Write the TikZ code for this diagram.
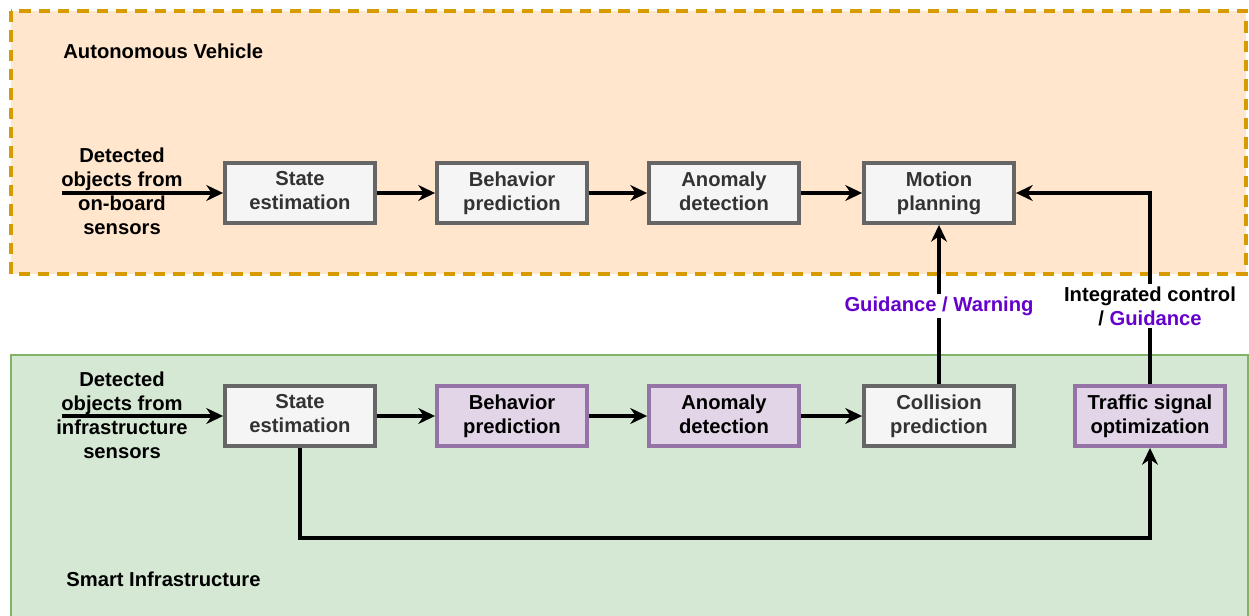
\documentclass[tikz,border=0pt]{standalone}
\usepackage{fontspec}
\setmainfont{Liberation Sans}
\usetikzlibrary{arrows.meta}

\definecolor{avfill}{HTML}{FFE6CC}
\definecolor{avline}{HTML}{D79B00}
\definecolor{sifill}{HTML}{D5E8D4}
\definecolor{siline}{HTML}{82B366}
\definecolor{boxfill}{HTML}{F5F5F5}
\definecolor{boxline}{HTML}{666666}
\definecolor{boxtext}{HTML}{333333}
\definecolor{pfill}{HTML}{E1D5E7}
\definecolor{pline}{HTML}{9673A6}
\definecolor{guide}{HTML}{6600CC}

% struts that place multi-line labels around their visual centre
\newcommand\topstrut{\rule{0pt}{15pt}}
\newcommand\botstrut{\rule[-2.5pt]{0pt}{2.5pt}}

\begin{document}
\begin{tikzpicture}[
  x=0.02cm, y=-0.02cm,
  font=\fontsize{11.5}{13.7}\selectfont\bfseries,
  proc/.style={draw=boxline, fill=boxfill, line width=2.2pt,
    minimum width=3cm, minimum height=1.2cm, inner sep=0pt,
    align=center, text=boxtext,
    execute at begin node=\topstrut, execute at end node=\botstrut},
  infra/.style={proc, draw=pline, fill=pfill, text=black},
  flow/.style={line width=2.3pt, draw=black,
    -{Stealth[length=9.5pt, width=9pt, inset=3pt]}},
  lbl/.style={fill=white, inner sep=1.5pt, align=center},
  src/.style={align=center, inner sep=0pt,
    execute at begin node=\topstrut, execute at end node=\botstrut}
]
\useasboundingbox (0,0) rectangle (1249,616);
\fill[white] (0,0) rectangle (1249,616);

% regions
\fill[avfill] (11,11) rectangle (1246,274);
\draw[avline, line width=2pt, dash pattern=on 6.5pt off 4.5pt] (11,11) rectangle (1246,274);
\fill[sifill] (11,355) rectangle (1248,616);
\draw[siline, line width=1.6pt] (11,616) -- (11,355) -- (1248,355) -- (1248,616);

\node[anchor=west, inner sep=0pt] (avt) at (63,51) {Autonomous Vehicle};
\node[anchor=west, inner sep=0pt] (sit) at (66,579) {Smart Infrastructure};

% vehicle pipeline
\node[proc] (s1) at (300,193) {State\\estimation};
\node[proc] (b1) at (512,193) {Behavior\\prediction};
\node[proc] (a1) at (724,193) {Anomaly\\detection};
\node[proc] (m1) at (939,193) {Motion\\planning};

% infrastructure pipeline
\node[proc]  (s2) at (300,416) {State\\estimation};
\node[infra] (b2) at (512,416) {Behavior\\prediction};
\node[infra] (a2) at (724,416) {Anomaly\\detection};
\node[proc]  (c2) at (939,416) {Collision\\prediction};
\node[infra] (t2) at (1150,416) {Traffic signal\\optimization};

% sensor inputs
\coordinate (in1) at (62,193);
\coordinate (in2) at (62,416);
\draw[flow] (in1) -- (s1);
\draw[flow] (in2) -- (s2);
\node[src] (d1) at (122,193) {Detected\\objects from\\on-board\\sensors};
\node[src] (d2) at (122,417) {Detected\\objects from\\infrastructure\\sensors};

% main flow
\draw[flow] (s1) -- (b1);
\draw[flow] (b1) -- (a1);
\draw[flow] (a1) -- (m1);
\draw[flow] (s2) -- (b2);
\draw[flow] (b2) -- (a2);
\draw[flow] (a2) -- (c2);

% feedback to the vehicle
\draw[flow] (c2) -- (m1);
\draw[flow] (t2.north) |- (m1.east);
\draw[flow] (s2.south) -- (s2.south |- 0,538) -| (t2.south);

\node[lbl, text=guide] (gw) at (939,306) {Guidance / Warning};
\node[lbl] (ic) at (1150,306) {Integrated control\\/ \textcolor{guide}{Guidance}};
\end{tikzpicture}
\end{document}
